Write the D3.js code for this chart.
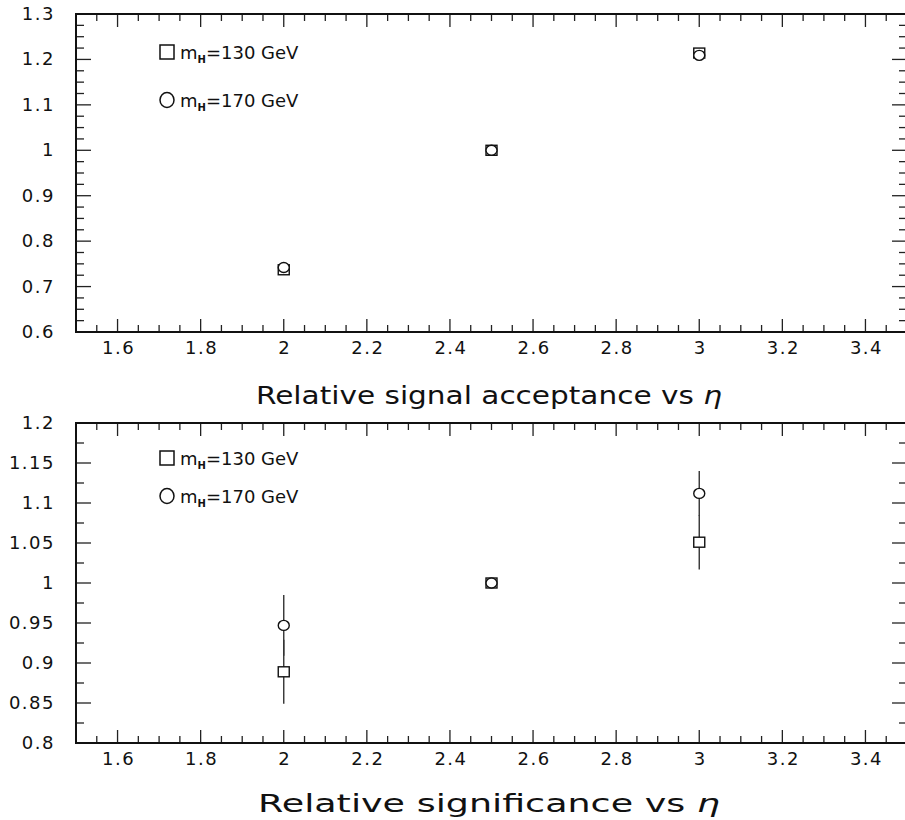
<!DOCTYPE html>
<html>
<head>
<meta charset="utf-8">
<script src="https://cdn.jsdelivr.net/npm/d3@7"></script>
<style>
body { margin: 0; background: #fff; }
svg text { font-family: "DejaVu Sans", sans-serif; fill: #111; }
</style>
</head>
<body>
<svg width="905" height="820"></svg>
<script>
// eta cut values
let etaVals = [2, 2.5, 3];

// relative signal acceptance
let accSq = [0.737, 1.0, 1.214];   // mH = 130 GeV
let accCi = [0.742, 1.0, 1.209];   // mH = 170 GeV

// relative significance (+ errors)
let sigSq = [0.889, 1.0, 1.051];
let sigSqErr = [0.040, 0, 0.034];
let sigCi = [0.947, 1.0, 1.112];
let sigCiErr = [0.038, 0, 0.028];

let xTicks = [1.6, 1.8, 2, 2.2, 2.4, 2.6, 2.8, 3, 3.2, 3.4];
let accTicks = [0.6, 0.7, 0.8, 0.9, 1, 1.1, 1.2, 1.3];
let sigTicks = [0.8, 0.85, 0.9, 0.95, 1, 1.05, 1.1, 1.15, 1.2];

let legendLabels = ["130", "170"];

let svg = d3.select("svg");

let left = 76, right = 907;

let x = d3.scaleLinear().domain([1.5, 3.5]).range([left, right]);

function panel(cfg) {
    let y = d3.scaleLinear().domain(cfg.yDomain).range([cfg.bottom, cfg.top]);
    let g = svg.append("g");

    // minor / major ticks, inward on all four sides
    let xMinor = d3.range(1.5, 3.5001, 0.05);
    let yMinor = d3.range(cfg.yDomain[0], cfg.yDomain[1] + 1e-6, cfg.minor);

    let tickLines = [];
    xMinor.forEach(v => {
        let isMajor = Math.abs(Math.round(v * 5) - v * 5) < 1e-6;
        let len = isMajor ? 13 : 7;
        tickLines.push([x(v), cfg.bottom, x(v), cfg.bottom - len]);
        tickLines.push([x(v), cfg.top, x(v), cfg.top + len]);
    });
    yMinor.forEach(v => {
        let isMajor = cfg.yTicks.some(t => Math.abs(t - v) < 1e-6);
        let len = isMajor ? 15 : 8;
        tickLines.push([left, y(v), left + len, y(v)]);
        tickLines.push([right, y(v), right - len, y(v)]);
    });

    g.selectAll(".tick")
        .data(tickLines)
        .join("line")
        .attr("x1", d => d[0]).attr("y1", d => d[1])
        .attr("x2", d => d[2]).attr("y2", d => d[3])
        .style("stroke", "#222")
        .style("stroke-width", 1.3)

    g.append("rect")
        .attr("x", left).attr("y", cfg.top)
        .attr("width", right - left).attr("height", cfg.bottom - cfg.top)
        .style("fill", "none")
        .style("stroke", "#111")
        .style("stroke-width", 2)

    // tick labels
    g.selectAll(".xl")
        .data(xTicks)
        .join("text")
        .attr("x", d => x(d) + 1)
        .attr("y", cfg.bottom + 22)
        .attr("text-anchor", "middle")
        .style("font-size", "18px")
        .style("letter-spacing", "1.5px")
        .text(d => d3.format("")(d))

    g.selectAll(".yl")
        .data(cfg.yTicks)
        .join("text")
        .attr("x", 55)
        .attr("y", d => y(d) + 6)
        .attr("text-anchor", "end")
        .style("font-size", "18px")
        .style("letter-spacing", "1.5px")
        .text(d => d3.format("")(d))

    // error bars
    let errs = [];
    etaVals.forEach((e, i) => {
        if (cfg.sqErr && cfg.sqErr[i] > 0) errs.push([e, cfg.sq[i] - cfg.sqErr[i], cfg.sq[i] + cfg.sqErr[i]]);
        if (cfg.ciErr && cfg.ciErr[i] > 0) errs.push([e, cfg.ci[i] - cfg.ciErr[i], cfg.ci[i] + cfg.ciErr[i]]);
    });
    g.selectAll(".err")
        .data(errs)
        .join("line")
        .attr("x1", d => x(d[0])).attr("x2", d => x(d[0]))
        .attr("y1", d => y(d[1])).attr("y2", d => y(d[2]))
        .style("stroke", "#333")
        .style("stroke-width", 1.4)

    // markers
    g.selectAll(".sq")
        .data(etaVals)
        .join("rect")
        .attr("x", d => x(d) - 5.5)
        .attr("y", (d, i) => y(cfg.sq[i]) - 5)
        .attr("width", 11).attr("height", 10)
        .style("fill", "white")
        .style("stroke", "#111")
        .style("stroke-width", 1.4)

    g.selectAll(".ci")
        .data(etaVals)
        .join("ellipse")
        .attr("cx", d => x(d))
        .attr("cy", (d, i) => y(cfg.ci[i]))
        .attr("rx", 5.5).attr("ry", 5)
        .style("fill", "white")
        .style("stroke", "#111")
        .style("stroke-width", 1.4)

    // legend
    let lg = g.append("g");
    legendLabels.forEach((m, i) => {
        let ly = cfg.legendY[i];
        if (i == 0) {
            lg.append("rect")
                .attr("x", 160).attr("y", ly - 7)
                .attr("width", 14).attr("height", 14)
                .style("fill", "none").style("stroke", "#111").style("stroke-width", 1.5)
        } else {
            lg.append("ellipse")
                .attr("cx", 167).attr("cy", ly)
                .attr("rx", 7).attr("ry", 7.5)
                .style("fill", "none").style("stroke", "#111").style("stroke-width", 1.5)
        }
        let t = lg.append("text")
            .attr("x", 180).attr("y", ly + 7)
            .style("font-size", "18px")
        t.append("tspan").text("m")
        t.append("tspan").attr("dy", 4).style("font-size", "10px").style("font-weight", "bold").text("H")
        t.append("tspan").attr("dy", -4).text("=" + m + " GeV")
    });

    // caption
    let cap = g.append("text")
        .attr("x", 489)
        .attr("y", cfg.captionY)
        .attr("text-anchor", "middle")
        .style("font-size", "25px")
        .attr("textLength", cfg.captionW)
        .attr("lengthAdjust", "spacingAndGlyphs")
    cap.append("tspan").text(cfg.caption + " vs ")
    cap.append("tspan").style("font-style", "italic").text("η")
}

panel({
    top: 14, bottom: 332,
    yDomain: [0.6, 1.3], minor: 0.025, yTicks: accTicks,
    sq: accSq, ci: accCi,
    legendY: [52, 100],
    caption: "Relative signal acceptance", captionY: 404, captionW: 466
});

panel({
    top: 423, bottom: 743,
    yDomain: [0.8, 1.2], minor: 0.025, yTicks: sigTicks,
    sq: sigSq, ci: sigCi, sqErr: sigSqErr, ciErr: sigCiErr,
    legendY: [458, 496],
    caption: "Relative significance", captionY: 812, captionW: 462
});
</script>
</body>
</html>
